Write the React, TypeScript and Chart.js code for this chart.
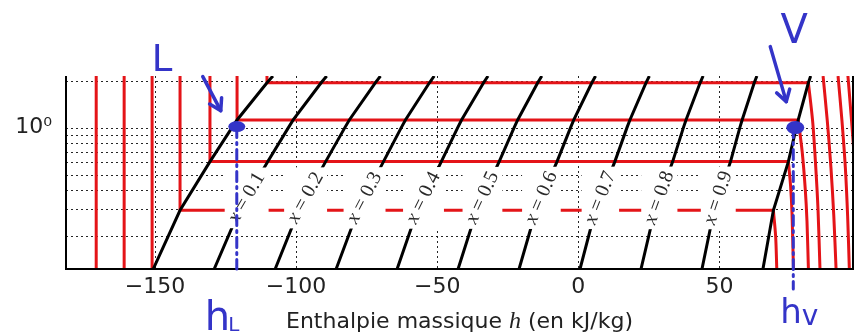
import React, { useEffect, useRef } from 'react';
import { Chart, registerables } from 'chart.js';

Chart.register(...registerables);

// ---- axes ----
const hMin = -181.5;
const hMax = 97.3;
const pMin = 0.1237;
const pMax = 2.145;
const xTickValues = [-150, -100, -50, 0, 50];
const yGridValues = [0.2, 0.3, 0.4, 0.5, 0.6, 0.7, 0.8, 0.9, 1, 2];
const yTickValues = [1];
const xTitleParts = ['Enthalpie massique ', 'h', ' (en kJ/kg)'];

// ---- saturation dome (pressure, liquid enthalpy, vapour enthalpy) ----
const satP = [0.1237, 0.2945, 0.605, 1.0, 1.12, 1.94, 2.145];
const satLiquidH = [-150.6, -141.1, -130.5, -122.7, -120.9, -110.3, -108.2];
const satVapourH = [65.4, 69.1, 74.4, 77.2, 77.9, 81.5, 82.3];

// ---- quality lines ----
const qualities = [0.1, 0.2, 0.3, 0.4, 0.5, 0.6, 0.7, 0.8, 0.9];
const qualityLabelP = 0.354;

// ---- isotherms: liquid branch enthalpy and plateau pressure ----
const isoLiquidH = [-170.8, -160.9, -151.0, -141.1, -130.5, -120.9, -110.3];
const isoPlateauP = [null, null, null, 0.2945, 0.605, 1.12, 1.94];

// ---- isotherms: vapour branches [h, P] ----
const isoVapour4 = [[69.1, 0.2945], [69.9, 0.2], [70.3, 0.1237]];
const isoVapour5 = [[74.4, 0.605], [75.2, 0.42], [75.7, 0.28], [76.2, 0.1237]];
const isoVapour6 = [[77.9, 1.12], [79.3, 0.7], [80.4, 0.4], [81.0, 0.25], [81.5, 0.1237]];
const isoVapour7 = [[81.5, 1.94], [83.0, 1.1], [84.0, 0.6], [84.9, 0.3], [85.6, 0.1237]];
const isoVapour8 = [[86.7, 2.145], [88.2, 1.1], [89.5, 0.55], [90.5, 0.27], [91.3, 0.1237]];
const isoVapour9 = [[92.0, 2.145], [93.4, 1.1], [94.6, 0.55], [95.4, 0.27], [96.0, 0.1237]];
const isoVapour10 = [[95.5, 2.145], [96.8, 1.1], [98.0, 0.55], [98.8, 0.27], [99.4, 0.1237]];
const isoVapourBranches = [null, null, null, isoVapour4, isoVapour5, isoVapour6, isoVapour7, isoVapour8, isoVapour9, isoVapour10];

// ---- hand annotations ----
const annotP = 1;
const annotLiquidH = -121;
const annotVapourH = 76.5;

const RED = 'rgb(228,20,24)';
const BLACK = '#000';
const BLUE = '#3434c8';

function buildDatasets() {
  const ds: any[] = [];
  const base = { showLine: true, pointRadius: 0, borderWidth: 3, fill: false, clip: 0 };
  ds.push({ ...base, order: 0, borderColor: BLACK, tension: 0, data: satP.map((p, i) => ({ x: satLiquidH[i], y: p })) });
  ds.push({ ...base, order: 0, borderColor: BLACK, tension: 0, data: satP.map((p, i) => ({ x: satVapourH[i], y: p })) });
  qualities.forEach((q) => {
    ds.push({
      ...base, order: 0, borderColor: BLACK, tension: 0,
      data: satP.map((p, i) => ({ x: satLiquidH[i] + q * (satVapourH[i] - satLiquidH[i]), y: p })),
    });
  });
  isoLiquidH.forEach((h, i) => {
    const pp = isoPlateauP[i];
    const pts: any[] = [{ x: h, y: pMax }];
    if (pp == null) {
      pts.push({ x: h, y: pMin });
    } else {
      const vb = isoVapourBranches[i] as number[][];
      pts.push({ x: h, y: pp });
      pts.push({ x: vb[0][0], y: pp });
    }
    ds.push({ ...base, order: 5, borderColor: RED, tension: 0, borderJoinStyle: 'miter', data: pts });
  });
  isoVapourBranches.forEach((vb) => {
    if (!vb) return;
    ds.push({ ...base, order: 5, borderColor: RED, tension: 0.3, data: vb.map(([h, p]) => ({ x: h, y: p })) });
  });
  return ds;
}

const fmtTick = (v: number) => (v < 0 ? '\u2212' + Math.abs(v) : String(v));

const LABEL_SIZE = 20;

const decorPlugin = {
  id: 'phDecor',
  beforeDatasetsDraw(chart: any) {
    const { ctx, chartArea: a, scales } = chart;
    const xs = scales.x, ys = scales.y;
    ctx.save();
    ctx.beginPath();
    ctx.rect(a.left, a.top, a.right - a.left, a.bottom - a.top);
    ctx.clip();
    ctx.strokeStyle = 'rgba(0,0,0,0.85)';
    ctx.lineWidth = 1;
    ctx.setLineDash([2, 3]);
    xTickValues.forEach((v) => {
      const px = Math.round(xs.getPixelForValue(v)) + 0.5;
      ctx.beginPath(); ctx.moveTo(px, a.top); ctx.lineTo(px, a.bottom); ctx.stroke();
    });
    yGridValues.forEach((v) => {
      const py = Math.round(ys.getPixelForValue(v)) + 0.5;
      ctx.beginPath(); ctx.moveTo(a.left, py); ctx.lineTo(a.right, py); ctx.stroke();
    });
    ctx.restore();
  },
  afterDatasetsDraw(chart: any) {
    const { ctx, chartArea: a, scales } = chart;
    const xs = scales.x, ys = scales.y;
    const yL = ys.getPixelForValue(qualityLabelP);
    ctx.save();
    qualities.forEach((q) => {
      const pts = satP.map((p, i) => ({
        px: xs.getPixelForValue(satLiquidH[i] + q * (satVapourH[i] - satLiquidH[i])),
        py: ys.getPixelForValue(p),
      }));
      for (let i = 0; i < pts.length - 1; i++) {
        const p0 = pts[i], p1 = pts[i + 1];
        if (p0.py >= yL && p1.py <= yL) {
          const t = (p0.py - yL) / (p0.py - p1.py);
          const cx = p0.px + t * (p1.px - p0.px);
          const ang = Math.atan2(p1.py - p0.py, p1.px - p0.px);
          const fI = `italic ${LABEL_SIZE}px "Liberation Serif"`;
          const fR = `${LABEL_SIZE}px "Liberation Serif"`;
          ctx.font = fI;
          const wx = ctx.measureText('x').width;
          const rest = ' = ' + q.toFixed(1);
          ctx.font = fR;
          const wr = ctx.measureText(rest).width;
          const W = wx + wr, H = 14;
          const c = Math.abs(Math.cos(ang)), s = Math.abs(Math.sin(ang));
          const bw = W * c + H * s + 4, bh = W * s + H * c + 6;
          ctx.fillStyle = '#fff';
          ctx.fillRect(cx - bw / 2, yL - bh / 2, bw, bh);
          ctx.save();
          ctx.translate(cx, yL);
          ctx.rotate(ang);
          ctx.fillStyle = '#2a2a2a';
          ctx.textBaseline = 'middle';
          ctx.textAlign = 'left';
          ctx.font = fI;
          ctx.fillText('x', -W / 2, 0);
          ctx.font = fR;
          ctx.fillText(rest, -W / 2 + wx, 0);
          ctx.restore();
          break;
        }
      }
    });
    ctx.strokeStyle = '#000';
    ctx.lineWidth = 2;
    ctx.setLineDash([]);
    ctx.beginPath();
    ctx.moveTo(a.left, a.top); ctx.lineTo(a.left, a.bottom); ctx.lineTo(a.right, a.bottom); ctx.lineTo(a.right, a.top);
    ctx.stroke();
    ctx.restore();
  },
  afterDraw(chart: any) {
    const { ctx, chartArea: a, scales } = chart;
    const xs = scales.x, ys = scales.y;
    ctx.save();
    // axis title
    const cx = (a.left + a.right) / 2;
    const fSans = '22px "DejaVu Sans"';
    const fIt = 'italic 24px "Liberation Serif"';
    ctx.font = fSans; const w0 = ctx.measureText(xTitleParts[0]).width; const w2 = ctx.measureText(xTitleParts[2]).width;
    ctx.font = fIt; const w1 = ctx.measureText(xTitleParts[1]).width;
    let x0 = cx - (w0 + w1 + w2) / 2;
    ctx.fillStyle = '#222';
    ctx.textBaseline = 'alphabetic';
    ctx.textAlign = 'left';
    const base = 328;
    ctx.font = fSans; ctx.fillText(xTitleParts[0], x0, base); x0 += w0;
    ctx.font = fIt; ctx.fillText(xTitleParts[1], x0, base); x0 += w1;
    ctx.font = fSans; ctx.fillText(xTitleParts[2], x0, base);

    // annotations
    const Lx = xs.getPixelForValue(annotLiquidH), Vx = xs.getPixelForValue(annotVapourH);
    const Py = ys.getPixelForValue(annotP);
    ctx.strokeStyle = BLUE; ctx.fillStyle = BLUE;
    ctx.lineCap = 'round'; ctx.lineJoin = 'round';
    ctx.lineWidth = 3;
    ctx.setLineDash([10, 5, 2, 5]);
    ctx.beginPath(); ctx.moveTo(Lx, Py); ctx.lineTo(Lx, a.bottom); ctx.stroke();
    ctx.beginPath(); ctx.moveTo(Vx - 1, Py); ctx.lineTo(Vx - 1, a.bottom + 20); ctx.stroke();
    ctx.setLineDash([]);
    ctx.beginPath(); ctx.ellipse(Lx, Py - 1, 8.5, 5.5, 0, 0, Math.PI * 2); ctx.fill();
    ctx.beginPath(); ctx.ellipse(Vx + 1, Py, 9, 6.5, 0, 0, Math.PI * 2); ctx.fill();
    const arrow = (tx: number, ty2: number, hx: number, hy: number) => {
      ctx.lineWidth = 3.5;
      ctx.beginPath(); ctx.moveTo(tx, ty2); ctx.lineTo(hx, hy); ctx.stroke();
      const ang = Math.atan2(hy - ty2, hx - tx);
      const len = 13;
      ctx.beginPath();
      ctx.moveTo(hx + len * Math.cos(ang + Math.PI - 0.55), hy + len * Math.sin(ang + Math.PI - 0.55));
      ctx.lineTo(hx, hy);
      ctx.lineTo(hx + len * Math.cos(ang + Math.PI + 0.55), hy + len * Math.sin(ang + Math.PI + 0.55));
      ctx.stroke();
    };
    arrow(Lx - 34, Py - 51, Lx - 16, Py - 17);
    arrow(Vx - 24, Py - 81, Vx - 8, Py - 26);
    ctx.textBaseline = 'alphabetic';
    ctx.textAlign = 'left';
    ctx.font = '37px "DejaVu Sans"';
    ctx.fillText('L', Lx - 85, Py - 57);
    ctx.textAlign = 'center';
    ctx.font = '40px "DejaVu Sans"';
    ctx.fillText('V', Vx, Py - 85);
    ctx.textAlign = 'left';
    ctx.font = '40px "DejaVu Sans"';
    ctx.fillText('h', Lx - 32, 330);
    const whL = ctx.measureText('h').width;
    ctx.font = '20px "DejaVu Sans"';
    ctx.fillText('L', Lx - 32 + whL - 2, 331);
    ctx.font = '34px "DejaVu Sans"';
    ctx.fillText('h', Vx - 14, 323);
    const whV = ctx.measureText('h').width;
    ctx.font = '28px "DejaVu Sans"';
    ctx.fillText('v', Vx - 14 + whV, 325);
    ctx.restore();
  },
};

export default function App() {
  const ref = useRef<HTMLCanvasElement>(null);
  useEffect(() => {
    if (!ref.current) return;
    const chart = new Chart(ref.current, {
      type: 'scatter',
      data: { datasets: buildDatasets() },
      options: {
        animation: false,
        responsive: false,
        devicePixelRatio: 1,
        events: [],
        layout: { padding: { top: 76, right: 3, left: 0, bottom: 0 } },
        plugins: { legend: { display: false }, tooltip: { enabled: false }, title: { display: false } },
        elements: { point: { radius: 0 }, line: { borderCapStyle: 'butt' } },
        scales: {
          x: {
            type: 'linear', min: hMin, max: hMax,
            grid: { display: false, drawTicks: false },
            border: { display: false },
            afterFit: (s: any) => { s.height = 65; },
            afterBuildTicks: (s: any) => { s.ticks = xTickValues.map((v) => ({ value: v })); },
            ticks: {
              callback: (v: any) => fmtTick(Number(v)),
              font: { family: '"DejaVu Sans"', size: 22 }, color: '#222', padding: 5,
              maxRotation: 0, autoSkip: false,
            },
          },
          y: {
            type: 'logarithmic', min: pMin, max: pMax,
            grid: { display: false, drawTicks: false },
            border: { display: false },
            afterFit: (s: any) => { s.width = 66; },
            afterBuildTicks: (s: any) => { s.ticks = yTickValues.map((v) => ({ value: v })); },
            ticks: {
              callback: () => '10\u2070',
              font: { family: '"DejaVu Sans"', size: 22 }, color: '#222', padding: 14,
              autoSkip: false,
            },
          },
        },
      } as any,
      plugins: [decorPlugin],
    });
    return () => chart.destroy();
  }, []);
  return (
    <div style={{ position: 'fixed', left: 0, top: 0, width: 856, height: 334, background: '#fff' }}>
      <canvas ref={ref} width={856} height={334} style={{ display: 'block', width: 856, height: 334 }} />
    </div>
  );
}
